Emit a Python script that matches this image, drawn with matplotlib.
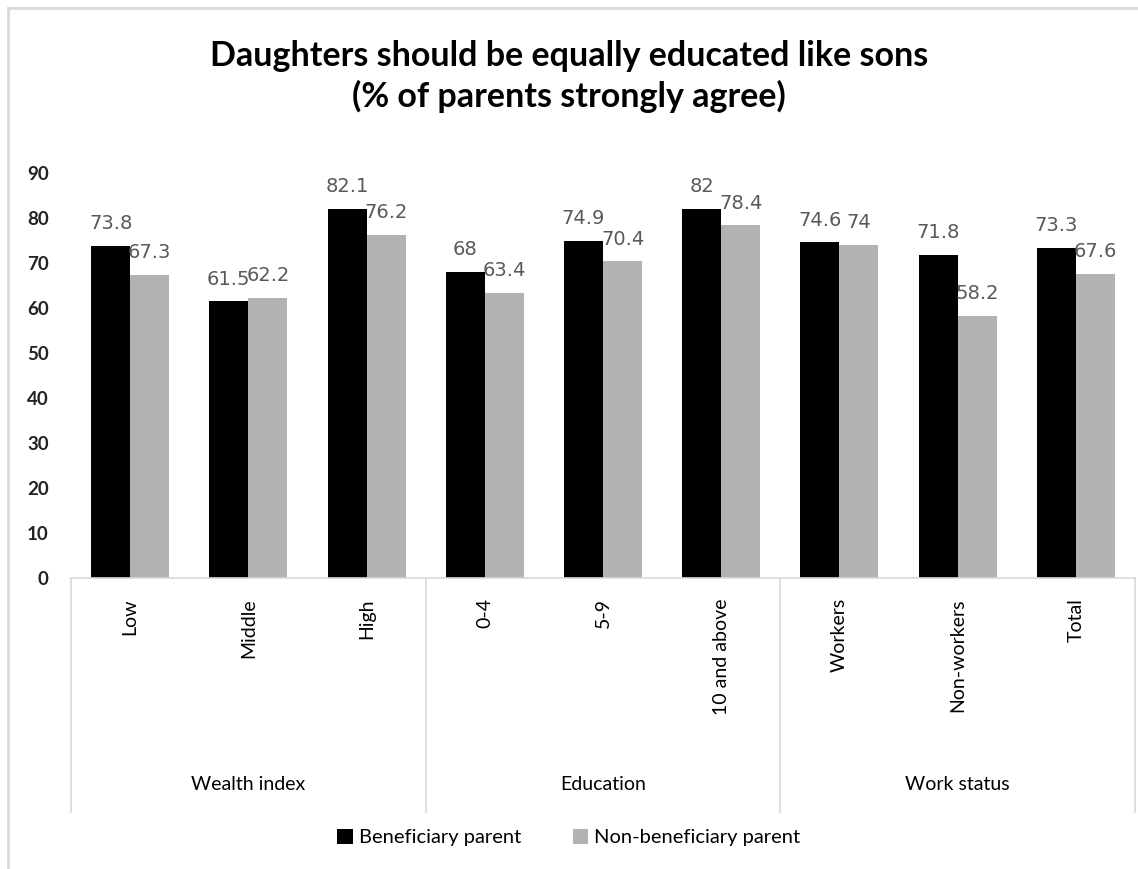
import matplotlib.pyplot as plt
import numpy as np

plt.rcParams['font.family'] = ['Lato', 'DejaVu Sans']

categories = ['Low', 'Middle', 'High', '0-4', '5-9', '10 and above',
              'Workers', 'Non-workers', 'Total']
groups = ['Wealth index', 'Education', 'Work status']
group_spans = [(0, 2), (3, 5), (6, 8)]
beneficiary = [73.8, 61.5, 82.1, 68, 74.9, 82, 74.6, 71.8, 73.3]
non_beneficiary = [67.3, 62.2, 76.2, 63.4, 70.4, 78.4, 74, 58.2, 67.6]
yticks = [0, 10, 20, 30, 40, 50, 60, 70, 80, 90]

fig = plt.figure(figsize=(11.38, 8.69), dpi=100)
ax = fig.add_axes([0.0624, 0.3349, 0.935, 0.466])

x = np.arange(len(categories))
w = 0.33
b1 = ax.bar(x - w/2, beneficiary, w, color='black', label='Beneficiary parent')
b2 = ax.bar(x + w/2, non_beneficiary, w, color='#B2B2B2', label='Non-beneficiary parent')

for bars, vals in ((b1, beneficiary), (b2, non_beneficiary)):
    for bar, v in zip(bars, vals):
        ax.annotate(f'{v:g}', (bar.get_x() + bar.get_width()/2, v),
                    xytext=(0, 12), textcoords='offset points',
                    ha='center', va='baseline', fontsize=14, color='#595959',
                    family=['DejaVu Sans'])

ax.set_xlim(-0.5, len(categories) - 0.5)
ax.set_ylim(0, 90)
ax.set_yticks(yticks)
ax.tick_params(axis='y', length=0, pad=16, labelsize=13.5)
for lbl in ax.get_yticklabels():
    lbl.set_fontweight('bold')
    lbl.set_color('#222222')
ax.set_xticks([])
for s in ['top', 'right', 'left']:
    ax.spines[s].set_visible(False)
ax.spines['bottom'].set_color('#D9D9D9')
ax.spines['bottom'].set_linewidth(1.2)

# multi-level category axis below the plot
tr = ax.get_xaxis_transform()
for xi, name in zip(x, categories):
    ax.text(xi, -0.05, name, transform=tr, rotation=90, ha='center', va='top',
            fontsize=14, color='black')
for name, (a, b) in zip(groups, group_spans):
    ax.text((a + b) / 2, -0.51, name, transform=tr, ha='center', va='center',
            fontsize=14, color='black')
for sep in [-0.5, 2.5, 5.5, 8.5]:
    ax.plot([sep, sep], [0, -0.578], transform=tr, color='#D9D9D9',
            lw=1.2, clip_on=False)

fig.text(0.5, 0.912, 'Daughters should be equally educated like sons\n(% of parents strongly agree)',
         ha='center', va='center', fontsize=24.5, fontweight='bold', linespacing=1.32)

fig.legend(loc='center', bbox_to_anchor=(0.5, 0.036), ncol=2, frameon=False,
           fontsize=14.5, handlelength=0.75, handleheight=0.75, handletextpad=0.3,
           columnspacing=2.6)

# chart frame
fig.add_artist(plt.Line2D([0.007, 1], [0.991, 0.991], color='#D9D9D9', lw=2))
fig.add_artist(plt.Line2D([0.007, 0.007], [0, 0.991], color='#D9D9D9', lw=2))

fig.savefig('out.png', dpi=100)
